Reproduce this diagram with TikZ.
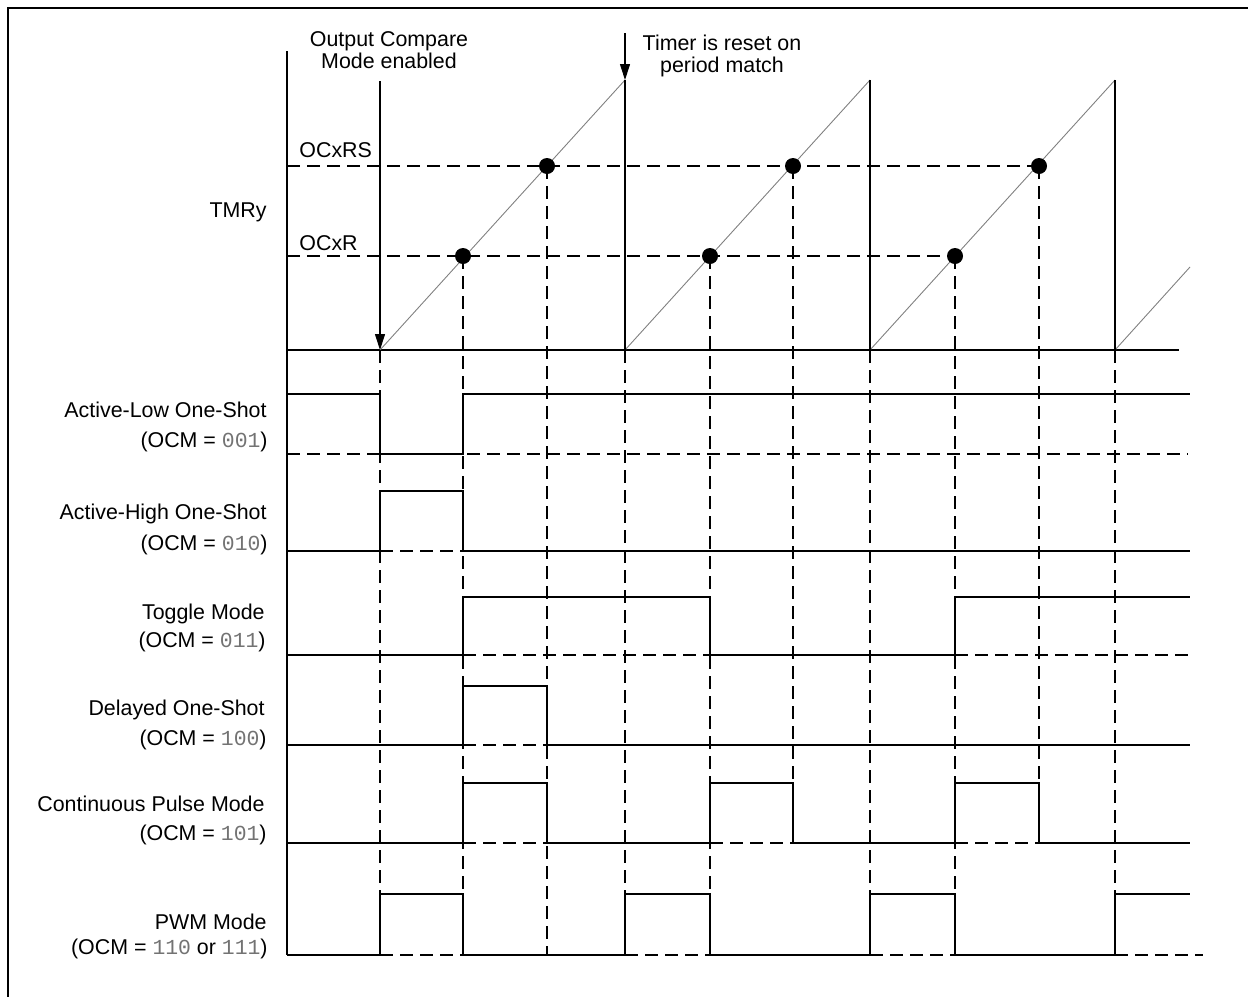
\documentclass[tikz,border=0pt]{standalone}
\usepackage{fontspec}
\setmainfont{Liberation Sans}
\setmonofont{Liberation Mono}
\usetikzlibrary{arrows.meta}
\tikzset{
	wave/.style={line width=0.6pt},
	guide/.style={line width=0.55pt,dash pattern=on 6.5pt off 3.5pt},
	ramp/.style={line width=0.45pt,gray},
	marker/.style={-{Triangle[length=8pt,width=5pt]},line width=0.55pt},
	lbl/.style={anchor=base east,inner sep=0pt,font=\fontsize{10.7}{12}\selectfont},
}
\newcommand{\ocmcode}[1]{{\ttfamily\color{black!55}#1}}
\begin{document}
\begin{tikzpicture}[x=0.5pt,y=-0.5pt]
		\useasboundingbox (0,0) rectangle (1248,997);
		\draw[line width=0.75pt] (1248,8) -- (8,8) -- (8,997);
		\draw[wave] (287,51) -- (287,955);
		\draw[wave] (287,350) -- (1179,350);
		\draw[ramp] (380,350) -- (625,80) (625,350) -- (870,80) (870,350) -- (1115,80) (1115,350) -- (1190,267);
		\draw[wave] (625,80) -- (625,350) (870,80) -- (870,350) (1115,80) -- (1115,350);
		\draw[guide] (287,166) -- (1039,166);
		\draw[guide] (287,256) -- (955,256);
		\foreach \x/\t/\b in {380/350/955, 463/256/955, 547/166/955, 625/350/894, 710/256/955, 793/166/843, 870/350/894, 955/256/955, 1039/166/843, 1115/350/894}
			\draw[guide] (\x,\t) -- (\x,\b);
		\foreach \x/\y in {463/256, 547/166, 710/256, 793/166, 955/256, 1039/166}
			\fill (\x,\y) circle[radius=4pt];
		\coordinate (oceTop) at (380,81);
		\coordinate (oceTip) at (380,350);
		\coordinate (rstTop) at (625,33);
		\coordinate (rstTip) at (625,80);
		\draw[marker] (oceTop) -- (oceTip);
		\draw[marker] (rstTop) -- (rstTip);
		\node[lbl,anchor=base] (oceA) at (389,46) {Output Compare};
		\node[lbl,anchor=base] (oceB) at (389,68) {Mode enabled};
		\node[lbl,anchor=base] (rstA) at (722,50) {Timer is reset on};
		\node[lbl,anchor=base] (rstB) at (722,72) {period match};
		\node[lbl] (tmry) at (267,217) {TMRy};
		\node[lbl,anchor=base west] (ocxrs) at (299,157) {OCxRS};
		\node[lbl,anchor=base west] (ocxr) at (299,250) {OCxR};
		\draw[wave] (287,394) -- (380,394) -- (380,454) -- (463,454) -- (463,394) -- (1190,394);
		\draw[guide] (287,454) -- (1188,454);
		\draw[wave] (287,551) -- (380,551) -- (380,491) -- (463,491) -- (463,551) -- (1190,551);
		\draw[guide] (380,551) -- (463,551);
		\draw[wave] (287,655) -- (463,655) -- (463,597) -- (710,597) -- (710,655) -- (955,655) -- (955,597) -- (1190,597);
		\draw[guide] (463,655) -- (710,655) (955,655) -- (1195,655);
		\draw[wave] (287,745) -- (463,745) -- (463,686) -- (547,686) -- (547,745) -- (1190,745);
		\draw[guide] (463,745) -- (547,745);
		\draw[wave] (287,843) -- (463,843) -- (463,783) -- (547,783) -- (547,843) -- (710,843) -- (710,783) -- (793,783) -- (793,843) -- (955,843) -- (955,783) -- (1039,783) -- (1039,843) -- (1190,843);
		\draw[guide] (463,843) -- (547,843) (710,843) -- (793,843) (955,843) -- (1039,843);
		\draw[wave] (287,955) -- (380,955) -- (380,894) -- (463,894) -- (463,955) -- (625,955) -- (625,894) -- (710,894) -- (710,955) -- (870,955) -- (870,894) -- (955,894) -- (955,955) -- (1115,955) -- (1115,894) -- (1190,894);
		\draw[guide] (380,955) -- (463,955) (625,955) -- (710,955) (870,955) -- (955,955) (1115,955) -- (1203,955);
		\node[lbl] (alos) at (267,417) {Active-Low One-Shot};
		\node[lbl] (alosocm) at (268,447) {(OCM = \ocmcode{001})};
		\node[lbl] (ahos) at (267,519) {Active-High One-Shot};
		\node[lbl] (ahosocm) at (268,550) {(OCM = \ocmcode{010})};
		\node[lbl] (tgl) at (265,619) {Toggle Mode};
		\node[lbl] (tglocm) at (266,647) {(OCM = \ocmcode{011})};
		\node[lbl] (dos) at (265,715) {Delayed One-Shot};
		\node[lbl] (dosocm) at (267,745) {(OCM = \ocmcode{100})};
		\node[lbl] (cpm) at (265,811) {Continuous Pulse Mode};
		\node[lbl] (cpmocm) at (267,840) {(OCM = \ocmcode{101})};
		\node[lbl] (pwm) at (267,929) {PWM Mode};
		\node[lbl] (pwmocm) at (268,954) {(OCM = \ocmcode{110} or \ocmcode{111})};
	\end{tikzpicture}
\end{document}
